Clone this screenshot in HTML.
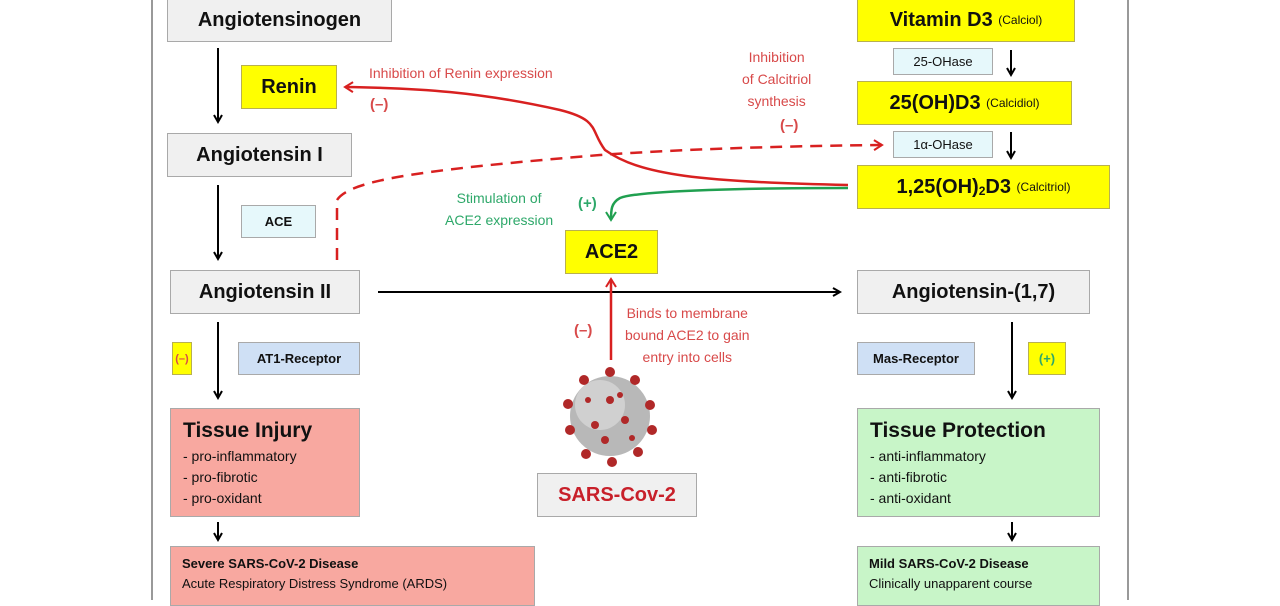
<!DOCTYPE html>
<html><head><meta charset="utf-8"><style>
body{margin:0;width:1280px;height:600px;background:#fff;position:relative;overflow:hidden;font-family:"Liberation Sans",sans-serif}
.b{position:absolute;box-sizing:border-box;border:1.5px solid #a9a9a9;display:flex;align-items:center;justify-content:center;white-space:nowrap;color:#111}
.g{background:#f0f0f0;font-weight:bold;font-size:20px}
.y{background:#ffff00;font-weight:bold;font-size:20px;border-color:#b8b050}
.c{background:#e6f8fb;font-size:13px}
.bl{background:#cfe0f5;font-size:13px;font-weight:bold}
.t{position:absolute;white-space:nowrap}
.red{color:#d84a4a}
.grn{color:#2ea86a}
.sm{font-size:12px;font-weight:normal}
</style></head><body>
<div style="position:absolute;left:151px;top:0;width:2px;height:600px;background:#999"></div>
<div style="position:absolute;left:1127px;top:0;width:2px;height:600px;background:#999"></div>

<div class="b g" style="left:167px;top:-2px;width:225px;height:44px">Angiotensinogen</div>
<div class="b y" style="left:241px;top:65px;width:96px;height:44px">Renin</div>
<div class="b g" style="left:167px;top:133px;width:185px;height:44px">Angiotensin I</div>
<div class="b c" style="left:241px;top:205px;width:75px;height:33px;font-weight:bold">ACE</div>
<div class="b g" style="left:170px;top:270px;width:190px;height:44px">Angiotensin II</div>
<div class="b y" style="left:172px;top:342px;width:20px;height:33px;font-size:11px;color:#d84a4a">(–)</div>
<div class="b bl" style="left:238px;top:342px;width:122px;height:33px">AT1-Receptor</div>
<div class="b" style="left:170px;top:408px;width:190px;height:109px;background:#f8a8a0;display:block;padding:10px 12px">
<div style="font-weight:bold;font-size:21px">Tissue Injury</div>
<div style="font-size:14px;line-height:21px;margin-top:3px">- pro-inflammatory<br>- pro-fibrotic<br>- pro-oxidant</div></div>
<div class="b" style="left:170px;top:546px;width:365px;height:60px;background:#f8a8a0;display:block;padding:7px 11px;font-size:13px;line-height:20px"><b>Severe SARS-CoV-2 Disease</b><br>Acute Respiratory Distress Syndrome (ARDS)</div>

<div class="b y" style="left:565px;top:230px;width:93px;height:44px">ACE2</div>
<div class="b" style="left:537px;top:473px;width:160px;height:44px;background:#f0f0f0;color:#c8202a;font-weight:bold;font-size:20px">SARS-Cov-2</div>

<div class="b y" style="left:857px;top:-2px;width:218px;height:44px">Vitamin D3&nbsp;<span class="sm">(Calciol)</span></div>
<div class="b c" style="left:893px;top:48px;width:100px;height:27px">25-OHase</div>
<div class="b y" style="left:857px;top:81px;width:215px;height:44px">25(OH)D3&nbsp;<span class="sm">(Calcidiol)</span></div>
<div class="b c" style="left:893px;top:131px;width:100px;height:27px">1α-OHase</div>
<div class="b y" style="left:857px;top:165px;width:253px;height:44px">1,25(OH)<sub style="font-size:12px;position:relative;top:4px;vertical-align:baseline">2</sub>D3&nbsp;<span class="sm">(Calcitriol)</span></div>
<div class="b g" style="left:857px;top:270px;width:233px;height:44px">Angiotensin-(1,7)</div>
<div class="b bl" style="left:857px;top:342px;width:118px;height:33px">Mas-Receptor</div>
<div class="b y" style="left:1028px;top:342px;width:38px;height:33px;font-size:13px;color:#2ea86a">(+)</div>
<div class="b" style="left:857px;top:408px;width:243px;height:109px;background:#c8f5c8;display:block;padding:10px 12px">
<div style="font-weight:bold;font-size:21px">Tissue Protection</div>
<div style="font-size:14px;line-height:21px;margin-top:3px">- anti-inflammatory<br>- anti-fibrotic<br>- anti-oxidant</div></div>
<div class="b" style="left:857px;top:546px;width:243px;height:60px;background:#c8f5c8;display:block;padding:7px 11px;font-size:13px;line-height:20px"><b>Mild SARS-CoV-2 Disease</b><br>Clinically unapparent course</div>

<div class="t red" style="left:369px;top:65px;font-size:14px">Inhibition of Renin expression</div>
<div class="t red" style="left:370px;top:96px;font-size:15px;font-weight:bold">(–)</div>
<div class="t red" style="left:742px;top:46px;font-size:14px;line-height:22px;text-align:center">Inhibition<br>of Calcitriol<br>synthesis</div>
<div class="t red" style="left:780px;top:117px;font-size:15px;font-weight:bold">(–)</div>
<div class="t grn" style="left:445px;top:187px;font-size:14px;line-height:22px;text-align:center">Stimulation of<br>ACE2 expression</div>
<div class="t grn" style="left:578px;top:195px;font-size:15px;font-weight:bold">(+)</div>
<div class="t red" style="left:625px;top:302px;font-size:14px;line-height:22px;text-align:center">Binds to membrane<br>bound ACE2 to gain<br>entry into cells</div>
<div class="t red" style="left:574px;top:322px;font-size:15px;font-weight:bold">(–)</div>

<svg width="1280" height="600" style="position:absolute;left:0;top:0">
<defs>
<marker id="k" markerWidth="10" markerHeight="10" refX="8" refY="5" orient="auto" markerUnits="userSpaceOnUse"><path d="M1,1 L8,5 L1,9" fill="none" stroke="#000" stroke-width="2"/></marker>
<marker id="r" markerWidth="12" markerHeight="12" refX="9" refY="6" orient="auto" markerUnits="userSpaceOnUse"><path d="M1,1 L9,6 L1,11" fill="none" stroke="#d82020" stroke-width="2"/></marker>
<marker id="gm" markerWidth="12" markerHeight="12" refX="9" refY="6" orient="auto" markerUnits="userSpaceOnUse"><path d="M1,1 L9,6 L1,11" fill="none" stroke="#20a050" stroke-width="2"/></marker>
</defs>
<g stroke="#000" stroke-width="2" fill="none" marker-end="url(#k)">
<line x1="218" y1="48" x2="218" y2="122"/>
<line x1="218" y1="185" x2="218" y2="259"/>
<line x1="218" y1="322" x2="218" y2="398"/>
<line x1="218" y1="522" x2="218" y2="540"/>
<line x1="1012" y1="322" x2="1012" y2="398"/>
<line x1="1012" y1="522" x2="1012" y2="540"/>
<line x1="1011" y1="50" x2="1011" y2="75"/>
<line x1="1011" y1="132" x2="1011" y2="158"/>
<line x1="378" y1="292" x2="840" y2="292"/>
</g>
<path d="M848,185 C700,182 640,175 605,150 C590,130 600,120 560,110 C480,92 420,88 345,87" stroke="#d82020" stroke-width="2.5" fill="none" marker-end="url(#r)"/>
<path d="M337,260 L337,200 C350,180 420,170 600,155 C700,148 800,146 882,145" stroke="#d82020" stroke-width="2.5" fill="none" stroke-dasharray="12,8" marker-end="url(#r)"/>
<path d="M848,188 C760,188 640,190 620,198 C611,203 611,210 611,220" stroke="#20a050" stroke-width="2.5" fill="none" marker-end="url(#gm)"/>
<line x1="611" y1="360" x2="611" y2="279" stroke="#d82020" stroke-width="2.5" marker-end="url(#r)"/>
<g>
<circle cx="610" cy="416" r="40" fill="#b8b8b8"/>
<circle cx="600" cy="405" r="25" fill="#d0d0d0"/>
<g fill="#b02828">
<circle cx="610" cy="372" r="5"/><circle cx="635" cy="380" r="5"/><circle cx="650" cy="405" r="5"/><circle cx="652" cy="430" r="5"/><circle cx="638" cy="452" r="5"/><circle cx="612" cy="462" r="5"/><circle cx="586" cy="454" r="5"/><circle cx="570" cy="430" r="5"/><circle cx="568" cy="404" r="5"/><circle cx="584" cy="380" r="5"/>
<circle cx="610" cy="400" r="4"/><circle cx="625" cy="420" r="4"/><circle cx="595" cy="425" r="4"/><circle cx="620" cy="395" r="3"/><circle cx="605" cy="440" r="4"/><circle cx="632" cy="438" r="3"/><circle cx="588" cy="400" r="3"/>
</g></g>
</svg>
</body></html>
